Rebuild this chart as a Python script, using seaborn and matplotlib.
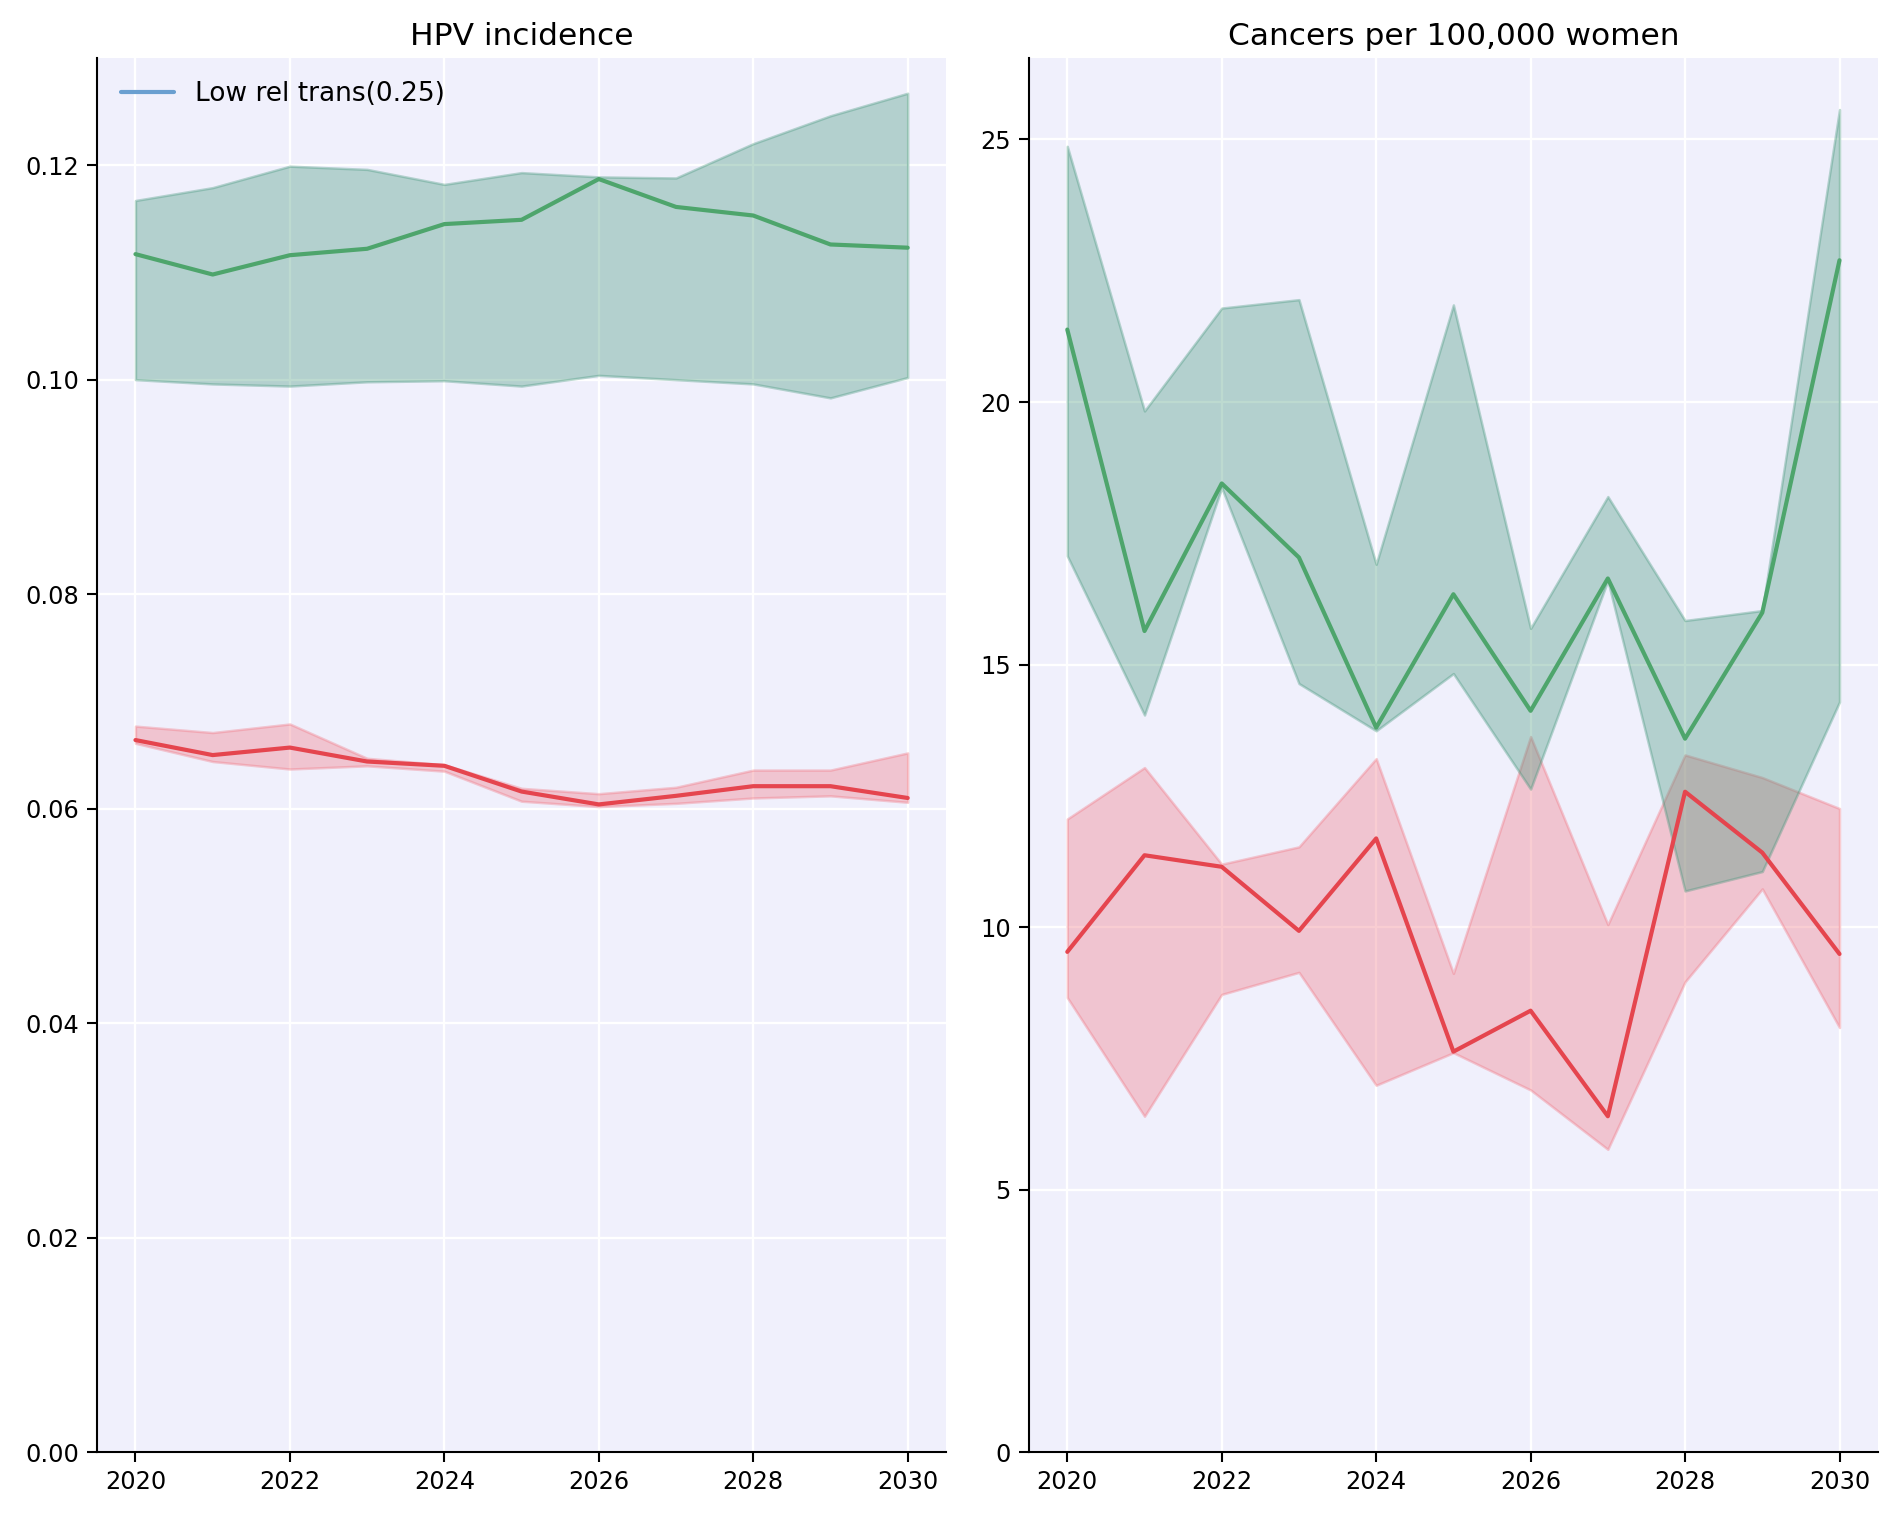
import numpy as np
import pandas as pd
import matplotlib
matplotlib.use("Agg")
import matplotlib.pyplot as plt
import seaborn as sns

# ─────────────────────────────────────────────
# DATA
# ─────────────────────────────────────────────
years = [2020, 2021, 2022, 2023, 2024, 2025, 2026, 2027, 2028, 2029, 2030]

# HPV incidence
hpv_green_mean = [0.1117, 0.1098, 0.1116, 0.1122, 0.1145, 0.1149, 0.1187, 0.1161, 0.1153, 0.1126, 0.1123]
hpv_green_low = [0.1000, 0.0996, 0.0994, 0.0998, 0.0999, 0.0994, 0.1004, 0.1000, 0.0996, 0.0983, 0.1002]
hpv_green_high = [0.1167, 0.1179, 0.1199, 0.1196, 0.1182, 0.1193, 0.1189, 0.1188, 0.1220, 0.1246, 0.1267]

hpv_red_mean = [0.0664, 0.0650, 0.0657, 0.0644, 0.0640, 0.0616, 0.0604, 0.0612, 0.0621, 0.0621, 0.0610]
hpv_red_low = [0.0661, 0.0644, 0.0637, 0.0640, 0.0635, 0.0607, 0.0602, 0.0605, 0.0610, 0.0612, 0.0606]
hpv_red_high = [0.0677, 0.0671, 0.0679, 0.0647, 0.0641, 0.0619, 0.0614, 0.0620, 0.0636, 0.0636, 0.0652]

# Cancers per 100,000 women
cin_green_mean = [21.38, 15.64, 18.45, 17.04, 13.80, 16.34, 14.12, 16.64, 13.59, 15.99, 22.70]
cin_green_low = [17.07, 14.04, 18.37, 14.64, 13.74, 14.83, 12.63, 16.60, 10.69, 11.06, 14.29]
cin_green_high = [24.87, 19.83, 21.79, 21.95, 16.91, 21.85, 15.69, 18.20, 15.84, 16.03, 25.57]

cin_red_mean = [9.53, 11.37, 11.15, 9.93, 11.69, 7.63, 8.41, 6.40, 12.58, 11.42, 9.49]
cin_red_low = [8.66, 6.40, 8.72, 9.14, 6.99, 7.61, 6.90, 5.77, 8.96, 10.73, 8.09]
cin_red_high = [12.06, 13.04, 11.20, 11.53, 13.21, 9.12, 13.63, 10.05, 13.28, 12.85, 12.26]

titles = ["HPV incidence", "Cancers per 100,000 women"]
legend_label = "Low rel trans(0.25)"

GREEN_LINE = "#4ea56c"
GREEN_FILL = "#429579"
RED_LINE = "#e5454e"
RED_FILL = "#f0727e"
BLUE_LINE = "#6a9fd0"

sns.set_style("darkgrid", {
    "axes.facecolor": "#f0f0fc",
    "grid.color": "white",
    "axes.edgecolor": "black",
    "xtick.bottom": True,
    "ytick.left": True,
    "xtick.color": "black",
    "ytick.color": "black",
    "text.color": "black",
})
plt.rcParams["font.family"] = ["DejaVu Sans"]
plt.rcParams["axes.linewidth"] = 1.0
plt.rcParams["grid.linewidth"] = 1.1


def draw_panel(ax, green, red, title):
    g_mean, g_low, g_high = green
    r_mean, r_low, r_high = red
    df = pd.DataFrame({"year": years, "green": g_mean, "red": r_mean})

    ax.fill_between(years, r_low, r_high, color=RED_FILL, alpha=0.35, lw=1.2)
    sns.lineplot(data=df, x="year", y="red", color=RED_LINE, lw=2.0, ax=ax)
    ax.fill_between(years, g_low, g_high, color=GREEN_FILL, alpha=0.35, lw=1.2)
    sns.lineplot(data=df, x="year", y="green", color=GREEN_LINE, lw=2.0, ax=ax)

    ax.set_ylim(bottom=0)
    ax.set_xticks([2020, 2022, 2024, 2026, 2028, 2030])
    ax.set_xlabel("")
    ax.set_ylabel("")
    ax.set_title(title, fontsize=15, color="black")
    ax.tick_params(labelsize=11.5, length=5, width=1)
    sns.despine(ax=ax)


fig, axes = plt.subplots(1, 2, figsize=(12.66, 10.107), dpi=150)
draw_panel(axes[0], (hpv_green_mean, hpv_green_low, hpv_green_high),
           (hpv_red_mean, hpv_red_low, hpv_red_high), titles[0])
draw_panel(axes[1], (cin_green_mean, cin_green_low, cin_green_high),
           (cin_red_mean, cin_red_low, cin_red_high), titles[1])

axes[0].plot([], [], color=BLUE_LINE, lw=2.0, label=legend_label)
axes[0].legend(loc="upper left", frameon=False, fontsize=12.7, labelcolor="black")

fig.subplots_adjust(left=0.051, right=0.989, bottom=0.042, top=0.962, wspace=0.097)
fig.savefig("out.png", dpi=150)
